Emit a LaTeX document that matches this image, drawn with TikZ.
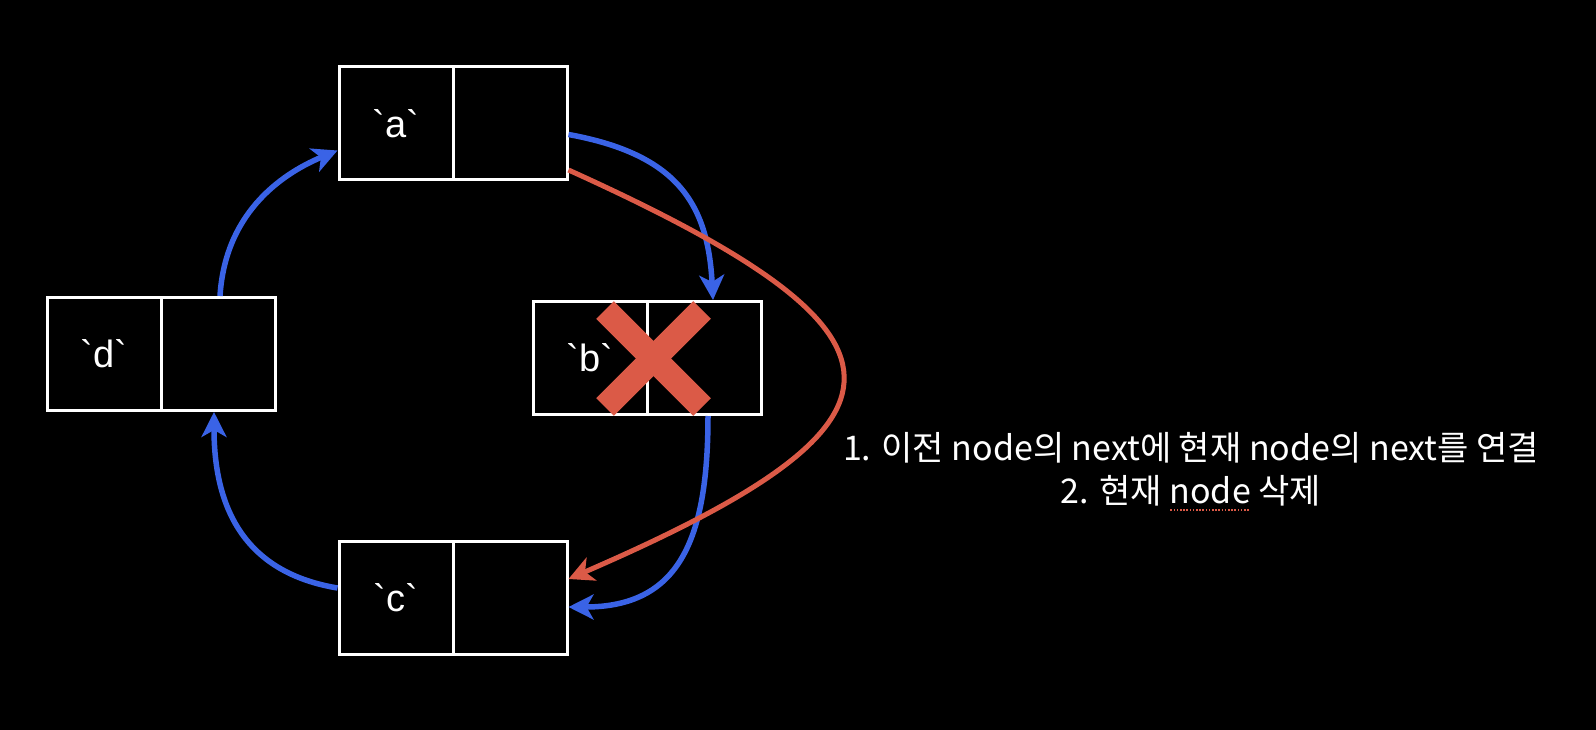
\documentclass[tikz,border=0pt]{standalone}
\usepackage{fontspec}
\setmainfont{Liberation Sans}[Ligatures=TeXOff]
\newfontfamily\kofont{Noto Sans CJK KR}[Ligatures=TeXOff]
\usetikzlibrary{arrows.meta}
\definecolor{listblue}{HTML}{3A63E6}
\definecolor{listred}{HTML}{DB5A47}
\newcommand\bq{\symbol{96}}
\newcommand\squig[1]{\setbox0\hbox{#1}\rlap{\raisebox{-8pt}{\color{listred}\leaders\hbox to 3.2pt{\hss\rule{1.7pt}{1.7pt}\hss}\hskip\wd0}}\box0\relax}
\tikzset{
  cell/.style={draw=white, line width=3pt, minimum width=114pt, minimum height=113pt,
    inner sep=0pt, text=white, font=\fontsize{38}{44}\selectfont},
  link/.style={listblue, line width=5.5pt, -{Stealth[length=25pt,width=25pt,inset=7pt]}},
  unlink/.style={listred, line width=5pt, -{Stealth[length=25pt,width=25pt,inset=7pt]}},
  memo/.style={text=white, inner sep=0pt, font=\kofont\fontsize{34}{40}\selectfont},
  cross/.style={listred, line width=25pt},
}
\begin{document}
\begin{tikzpicture}[x=1pt,y=-1pt]
        \fill[black] (0,0) rectangle (1596,730);
        \node[cell] (a) at (396,123.5) {\bq a\bq};
        \node[cell] (anext) at (510,123.5) {};
        \node[cell] (b) at (590,358) {\bq b\bq};
        \node[cell] (bnext) at (704,358) {};
        \node[cell] (c) at (396,598) {\bq c\bq};
        \node[cell] (cnext) at (510,598) {};
        \node[cell] (d) at (104,354) {\bq d\bq};
        \node[cell] (dnext) at (218,354) {};
        % b is removed
        \draw[cross] (605,310) -- (702,407);
        \draw[cross] (702,310) -- (605,407);
        \draw[link] ([yshift=-11pt]anext.east) .. controls +(110,20) and +(-5,-95) .. ([xshift=9pt]bnext.north);
        \draw[link] ([xshift=4pt]bnext.south) .. controls +(0,125) and +(110,0) .. ([yshift=-9pt]cnext.east);
        \draw[link] ([yshift=10pt]c.west) .. controls +(-90,-15) and +(0,100) .. ([xshift=-4pt]dnext.south);
        \draw[link] ([xshift=2pt]dnext.north) .. controls +(5,-80) and +(-60,25) .. ([yshift=-27pt]a.west);
        \draw[unlink] ([yshift=-46.5pt]anext.east) .. controls +(365,165) and +(365,-158) .. ([yshift=19pt]cnext.east);
        \node[memo] (step1) at (1191,448) {1. 이전 node의 next에 현재 node의 next를 연결};
        \node[memo] (step2) at (1191,493) {2. 현재 \squig{node} 삭제};
\end{tikzpicture}
\end{document}
